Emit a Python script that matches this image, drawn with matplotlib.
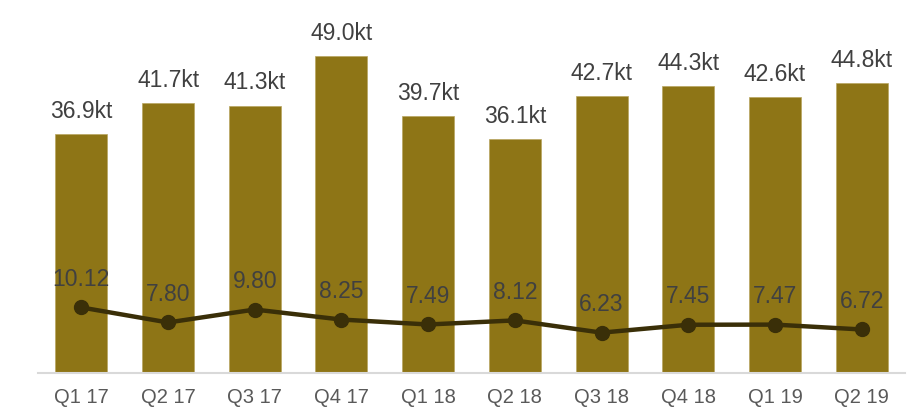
import numpy as np
import matplotlib.pyplot as plt

plt.rcParams['font.family'] = ['Liberation Sans', 'DejaVu Sans']

quarters = ["Q1 17", "Q2 17", "Q3 17", "Q4 17", "Q1 18", "Q2 18", "Q3 18", "Q4 18", "Q1 19", "Q2 19"]
volumes = [36.9, 41.7, 41.3, 49.0, 39.7, 36.1, 42.7, 44.3, 42.6, 44.8]
line_vals = [10.12, 7.80, 9.80, 8.25, 7.49, 8.12, 6.23, 7.45, 7.47, 6.72]

bar_color = "#8E7516"
line_color = "#3A2F08"

fig = plt.figure(figsize=(9.16, 4.12), dpi=100)
ax = fig.add_axes([0.0415, 0.0947, 0.9465, 0.9053])

x = np.arange(len(quarters))
ax.bar(x, volumes, width=0.6, color=bar_color, edgecolor="#B8A660", linewidth=0.5, zorder=2)
ax.plot(x, line_vals, color=line_color, linewidth=3.2, marker="o", markersize=10, zorder=3)

for xi, v in zip(x, volumes):
    ax.annotate(f"{v:.1f}kt", (xi, v), xytext=(0, 8), textcoords="offset points",
                ha="center", va="bottom", fontsize=16.5, color="#404040")
for xi, v in zip(x, line_vals):
    ax.annotate(f"{v:.2f}", (xi, v), xytext=(0, 20), textcoords="offset points",
                ha="center", va="center", fontsize=16.5, color="#404040")

ax.set_xlim(-0.5, len(quarters) - 0.5)
ax.set_ylim(0, 57.6)
ax.set_xticks(x)
ax.set_xticklabels(quarters, fontsize=14.5, color="#595959")
ax.tick_params(axis="x", length=0, pad=11)
ax.set_yticks([])
for s in ["top", "right", "left"]:
    ax.spines[s].set_visible(False)
ax.spines["bottom"].set_color("#D9D9D9")
ax.spines["bottom"].set_linewidth(1.5)

fig.savefig("out.png", dpi=100)
